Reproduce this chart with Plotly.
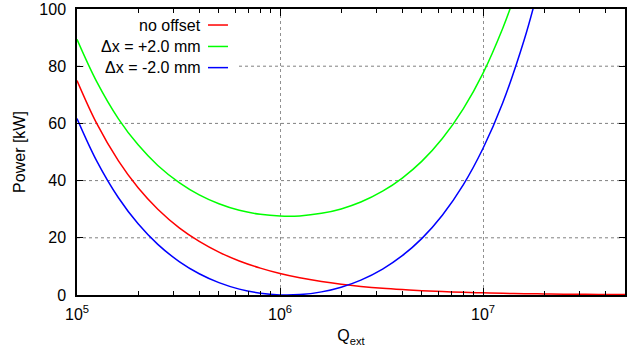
import plotly.graph_objects as go

# Q_ext sample points
q_ext = [1.0e5, 1.25e5, 1.6e5, 2.0e5, 2.5e5, 3.2e5, 4.0e5, 5.0e5, 6.3e5, 8.0e5,
         1.0e6, 1.25e6, 1.6e6, 2.0e6, 2.5e6, 3.2e6, 4.0e6, 5.0e6, 6.3e6, 8.0e6,
         1.0e7, 1.25e7, 1.6e7, 2.0e7, 2.5e7, 3.2e7, 4.0e7, 5.0e7]

power_no_offset = [75.0, 60.0, 46.9, 37.5, 30.0, 23.4, 18.75, 15.0, 11.9, 9.4,
                   7.5, 6.0, 4.7, 3.75, 3.0, 2.34, 1.88, 1.5, 1.19, 0.94,
                   0.75, 0.6, 0.47, 0.375, 0.3, 0.23, 0.19, 0.15]

q_plus = [1.0e5, 1.25e5, 1.6e5, 2.0e5, 2.5e5, 3.2e5, 4.0e5, 5.0e5, 6.3e5, 8.0e5,
          1.0e6, 1.25e6, 1.6e6, 2.0e6, 2.5e6, 3.2e6, 4.0e6, 5.0e6, 6.3e6, 8.0e6,
          1.0e7, 1.25e7, 1.4e7]
power_plus = [89.4, 74.6, 61.6, 52.5, 45.3, 39.2, 35.0, 31.9, 29.6, 28.2,
              27.6, 27.65, 28.55, 30.1, 32.5, 36.3, 40.9, 46.8, 54.7, 65.2,
              77.6, 93.3, 102.7]

q_minus = [1.0e5, 1.25e5, 1.6e5, 2.0e5, 2.5e5, 3.2e5, 4.0e5, 5.0e5, 6.3e5, 8.0e5,
           1.0e6, 1.25e6, 1.6e6, 2.0e6, 2.5e6, 3.2e6, 4.0e6, 5.0e6, 6.3e6, 8.0e6,
           1.0e7, 1.25e7, 1.6e7, 1.8e7]
power_minus = [61.7, 46.9, 34.0, 24.9, 17.7, 11.6, 7.43, 4.32, 2.06, 0.63,
               0.04, 0.15, 1.09, 2.73, 5.2, 9.06, 13.74, 19.8, 27.9, 38.6,
               51.3, 67.2, 89.6, 102.5]

series_names = ["no offset", "\u0394x = +2.0 mm", "\u0394x = -2.0 mm"]
series_colors = ["#ff0000", "#00ff00", "#0000ff"]

x_major = [1e5, 1e6, 1e7]
x_major_text = ["10<sup>5</sup>", "10<sup>6</sup>", "10<sup>7</sup>"]
x_minor = [m * d for d in (1e5, 1e6, 1e7) for m in range(2, 10) if m * d <= 5e7]
y_ticks = [0, 20, 40, 60, 80, 100]
y_grid = [20, 40, 60, 80]

FONT = "Liberation Sans, Arial, Helvetica, sans-serif"
GRID = dict(color="#808080", width=1, dash="dot")

fig = go.Figure()
for xs, ys, name, col in zip([q_ext, q_plus, q_minus],
                             [power_no_offset, power_plus, power_minus],
                             series_names, series_colors):
    fig.add_trace(go.Scatter(x=xs, y=ys, mode="lines", name=name,
                             line=dict(color=col, width=1.5, shape="spline"),
                             showlegend=False))

# horizontal grid lines (drawn as layout lines so the key box can cover them)
for gy in y_grid:
    fig.add_shape(type="line", xref="paper", yref="y", x0=0, x1=1, y0=gy, y1=gy,
                  line=GRID, layer="below")

# gnuplot-style key: opaque box, right-aligned text, sample line on the right
fig.add_shape(type="rect", xref="paper", yref="paper", x0=0.012, x1=0.293,
              y0=0.755, y1=0.995, fillcolor="white", line=dict(width=0),
              layer="below")
key_y = [0.944, 0.869, 0.795]
for name, col, ky in zip(series_names, series_colors, key_y):
    fig.add_annotation(xref="paper", yref="paper", x=0.230, y=ky, text=name,
                       showarrow=False, xanchor="right", yanchor="middle",
                       font=dict(family=FONT, size=16, color="black"))
    fig.add_shape(type="line", xref="paper", yref="paper", x0=0.239, x1=0.2755,
                  y0=ky, y1=ky, line=dict(color=col, width=1.5))

axis_common = dict(showline=True, linecolor="black", linewidth=1.5, mirror="ticks",
                   ticks="inside", tickcolor="black", tickwidth=1,
                   zeroline=False, automargin=False,
                   tickfont=dict(family=FONT, size=16, color="black"))

fig.update_xaxes(type="log", range=[5, 7.69897], tickmode="array",
                 tickvals=x_major, ticktext=x_major_text, ticklen=7,
                 ticklabelstandoff=4,
                 showgrid=True, gridcolor="#909090", griddash="dot", gridwidth=1,
                 minor=dict(tickmode="array", tickvals=x_minor, ticks="inside",
                            ticklen=4, tickcolor="black", showgrid=False),
                 title=dict(text="Q<sub>ext</sub>", standoff=8,
                            font=dict(family=FONT, size=16, color="black")),
                 **axis_common)
fig.update_yaxes(range=[0, 100], tickmode="array", tickvals=y_ticks, ticklen=6,
                 ticklabelstandoff=6, showgrid=False,
                 title=dict(text="Power [kW]", standoff=10,
                            font=dict(family=FONT, size=16, color="black")),
                 **axis_common)

fig.update_layout(width=640, height=348, margin=dict(l=77, r=15, t=9, b=53),
                  plot_bgcolor="white", paper_bgcolor="white",
                  font=dict(family=FONT, size=16, color="black"))

fig.write_html("out.html")
